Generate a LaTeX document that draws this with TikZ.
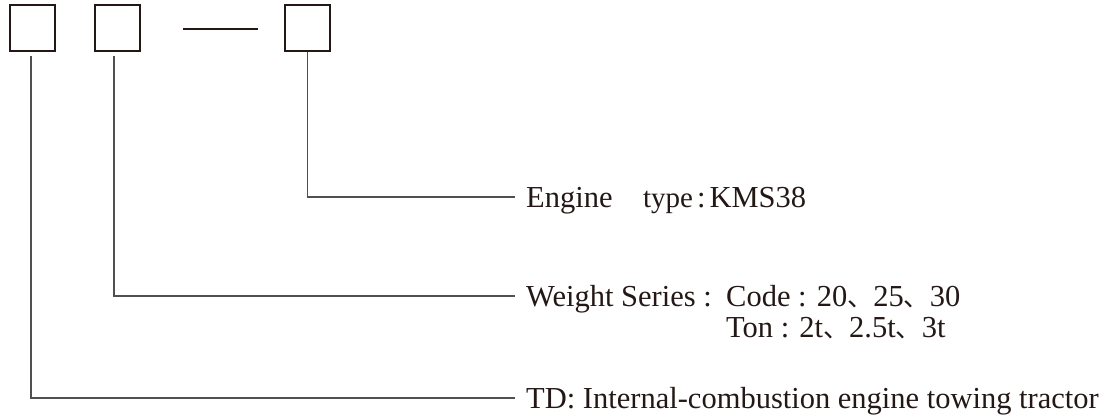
\documentclass[tikz,border=0pt]{standalone}
\usepackage{fontspec}
\setmainfont{Liberation Serif}
\newfontfamily\cjkfont{Noto Sans CJK SC}
\usetikzlibrary{positioning}
\definecolor{inkblack}{HTML}{231815}
\definecolor{leadergray}{HTML}{505050}
\newcommand{\dun}{{\cjkfont\fontsize{26}{26}\selectfont 、}}

\tikzset{
  codebox/.style={draw=inkblack, line width=1.6pt, minimum width=45pt, minimum height=46pt, inner sep=0pt},
  leader/.style={draw=leadergray, line width=1.3pt},
  legend/.style={anchor=west, inner xsep=11pt, inner ysep=0pt, text height=20pt, text depth=0pt,
    text=inkblack, font=\fontsize{30.5}{31}\selectfont},
}

\begin{document}
\begin{tikzpicture}[x=1pt,y=-1pt]
  \useasboundingbox (0,0) rectangle (1110,415);
  % code boxes
  \node[codebox] (tdbox) at (32.5,28) {};
  \node[codebox] (weightbox) at (117.5,28) {};
  \node[codebox] (enginebox) at (307.5,28) {};
  \coordinate (dashstart) at (183,29);
  \coordinate (dashend) at (258,29);
  \draw[inkblack, line width=1.8pt] (dashstart) -- (dashend);

  % legends
  \node[legend] (enginelabel) at (515,197) {Engine\hspace{1em}{\fontsize{29}{29}\selectfont type}\kern4pt:\kern4pt KMS38};
  \node[legend] (weightlabel) at (515,296) {Weight Series :};
  \node[legend, inner xsep=0pt] (codeline) at (726,296) {Code : 20\dun 25\dun 30};
  \node[legend, inner xsep=0pt] (tonline) at (726,327) {Ton : 2t\dun 2.5t\dun 3t};
  \node[legend] (tdlabel) at (515,398) {TD: Internal-combustion engine towing tractor};

  % leaders
  \coordinate (tdfoot) at (31,56);
  \coordinate (weightfoot) at (114,56);
  \draw[leader] (tdfoot) |- (tdlabel.west);
  \draw[leader] (weightfoot) |- (weightlabel.west);
  \draw[leader] (enginebox.south) |- (enginelabel.west);
\end{tikzpicture}
\end{document}
